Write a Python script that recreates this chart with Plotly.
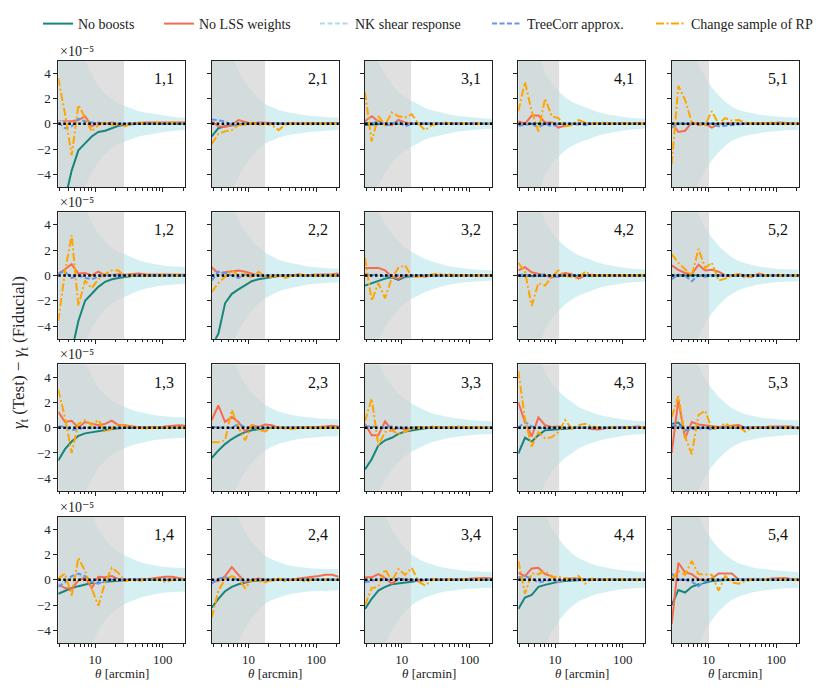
import math
import plotly.graph_objects as go

# angular bins [arcmin]
theta = [2.87, 3.60, 4.52, 5.68, 7.13, 8.94, 11.2, 14.1, 17.7, 22.2,
         27.9, 35.0, 43.9, 55.1, 69.2, 86.8, 109, 137, 172, 215]

lens_bins = [1, 2, 3, 4, 5]
source_bins = [1, 2, 3, 4]
scale_cuts = [26.8, 17.6, 13.7, 11.5, 10.2]   # per lens bin [arcmin]

# panels ordered (source 1: lens 1..5), (source 2: lens 1..5), ... ; units of 1e-5
sigma = [
    [14, 11, 8.5, 6.5, 5.0, 3.9, 3.0, 2.4, 1.9, 1.6, 1.4, 1.2, 1.0, 0.9, 0.8, 0.7, 0.62, 0.56, 0.5, 0.47],
    [10, 8.5, 6.8, 5.4, 4.2, 3.3, 2.6, 2.0, 1.55, 1.3, 1.1, 0.95, 0.85, 0.76, 0.68, 0.62, 0.57, 0.53, 0.5, 0.48],
    [7.5, 6.2, 4.8, 3.9, 3.1, 2.5, 2.1, 1.8, 1.5, 1.25, 1.07, 0.93, 0.8, 0.7, 0.61, 0.54, 0.49, 0.45, 0.42, 0.4],
    [12, 9.5, 7.2, 5.4, 4.1, 3.2, 2.6, 2.1, 1.75, 1.5, 1.3, 1.1, 0.92, 0.78, 0.67, 0.58, 0.51, 0.46, 0.42, 0.4],
    [14, 11, 8.5, 6.3, 4.7, 3.7, 2.9, 2.25, 1.75, 1.35, 1.1, 0.95, 0.83, 0.74, 0.66, 0.6, 0.55, 0.51, 0.49, 0.47],
    [14, 11, 8.8, 6.9, 5.3, 4.2, 3.3, 2.7, 2.2, 1.9, 1.65, 1.4, 1.2, 1.05, 0.93, 0.84, 0.77, 0.72, 0.68, 0.66],
    [10, 8.5, 6.8, 5.5, 4.4, 3.5, 2.8, 2.25, 1.8, 1.5, 1.25, 1.08, 0.95, 0.84, 0.75, 0.68, 0.62, 0.58, 0.55, 0.53],
    [8, 6.5, 5.1, 4.1, 3.3, 2.7, 2.2, 1.85, 1.55, 1.3, 1.1, 0.93, 0.8, 0.7, 0.61, 0.54, 0.49, 0.45, 0.42, 0.4],
    [12, 9.5, 7.3, 5.6, 4.3, 3.4, 2.8, 2.3, 1.9, 1.6, 1.38, 1.18, 1.0, 0.86, 0.75, 0.66, 0.59, 0.53, 0.5, 0.47],
    [14, 11, 8.5, 6.4, 4.8, 3.8, 3.0, 2.35, 1.85, 1.45, 1.15, 0.97, 0.83, 0.72, 0.64, 0.57, 0.52, 0.49, 0.47, 0.45],
    [14, 11, 8.7, 6.8, 5.2, 4.1, 3.2, 2.6, 2.15, 1.85, 1.6, 1.4, 1.25, 1.12, 1.02, 0.94, 0.88, 0.84, 0.82, 0.8],
    [10, 8.5, 6.8, 5.5, 4.4, 3.5, 2.8, 2.25, 1.8, 1.5, 1.28, 1.12, 1.0, 0.9, 0.83, 0.77, 0.73, 0.7, 0.68, 0.67],
    [8, 6.5, 5.1, 4.1, 3.3, 2.7, 2.25, 1.9, 1.6, 1.35, 1.15, 1.0, 0.88, 0.78, 0.7, 0.63, 0.58, 0.54, 0.52, 0.5],
    [12, 9.5, 7.4, 5.7, 4.4, 3.5, 2.9, 2.4, 2.0, 1.65, 1.4, 1.2, 1.03, 0.9, 0.79, 0.7, 0.62, 0.56, 0.52, 0.5],
    [14, 11, 8.6, 6.5, 4.9, 3.9, 3.1, 2.45, 1.95, 1.55, 1.25, 1.06, 0.93, 0.83, 0.75, 0.69, 0.64, 0.61, 0.59, 0.58],
    [16, 13, 10.5, 8.3, 6.5, 5.1, 4.0, 3.2, 2.6, 2.2, 1.9, 1.65, 1.45, 1.3, 1.18, 1.08, 1.01, 0.96, 0.93, 0.92],
    [11, 9.2, 7.5, 6.1, 4.8, 3.8, 3.0, 2.4, 1.9, 1.6, 1.38, 1.22, 1.1, 1.0, 0.95, 0.9, 0.87, 0.85, 0.84, 0.84],
    [9.5, 7.8, 6.2, 5.0, 4.0, 3.2, 2.5, 2.0, 1.65, 1.4, 1.2, 1.05, 0.93, 0.84, 0.77, 0.72, 0.68, 0.65, 0.64, 0.63],
    [13, 10.5, 8.3, 6.5, 5.2, 4.1, 3.3, 2.6, 2.1, 1.7, 1.45, 1.25, 1.1, 0.97, 0.87, 0.79, 0.73, 0.68, 0.65, 0.63],
    [14, 11.5, 8.9, 6.8, 5.1, 4.0, 3.2, 2.5, 2.0, 1.6, 1.32, 1.14, 1.0, 0.9, 0.82, 0.76, 0.71, 0.67, 0.65, 0.63],
]

no_boosts = [
    [-9.0, -6.0, -3.7, -2.1, -1.55, -1.0, -0.65, -0.55, -0.35, -0.15, -0.08, -0.03, 0.0, 0.0, 0.0, 0.0, 0.0, 0.0, 0.0, 0.0],
    [-1.0, -0.35, -0.2, -0.1, -0.05, 0.0, 0.0, 0.0, 0.0, 0.0, 0.0, 0.0, 0.0, 0.0, 0.0, 0.0, 0.0, 0.0, 0.0, 0.0],
    [-0.1, -0.05, 0.0, 0.0, 0.0, 0.0, 0.0, 0.0, 0.0, 0.0, 0.0, 0.0, 0.0, 0.0, 0.0, 0.0, 0.0, 0.0, 0.0, 0.0],
    [-0.05, 0.0, 0.0, 0.0, 0.0, 0.0, 0.0, 0.0, 0.0, 0.0, 0.0, 0.0, 0.0, 0.0, 0.0, 0.0, 0.0, 0.0, 0.0, 0.0],
    [0.0, 0.0, 0.0, 0.0, 0.0, 0.0, 0.0, 0.0, 0.0, 0.0, 0.0, 0.0, 0.0, 0.0, 0.0, 0.0, 0.0, 0.0, 0.0, 0.0],
    [-12.0, -9.0, -6.0, -3.6, -2.0, -1.45, -0.9, -0.5, -0.3, -0.2, -0.1, -0.05, -0.02, 0.0, 0.0, 0.0, 0.0, 0.0, 0.0, 0.0],
    [-5.6, -4.6, -2.2, -1.45, -1.1, -0.75, -0.45, -0.3, -0.2, -0.1, -0.05, 0.0, 0.0, 0.0, 0.0, 0.0, 0.0, 0.0, 0.0, 0.0],
    [-0.8, -0.6, -0.4, -0.25, -0.15, -0.35, -0.1, -0.05, 0.0, 0.0, 0.0, 0.0, 0.0, 0.0, 0.0, 0.0, 0.0, 0.0, 0.0, 0.0],
    [-0.05, -0.05, 0.0, 0.0, 0.0, 0.0, 0.0, 0.0, 0.0, 0.0, 0.0, 0.0, 0.0, 0.0, 0.0, 0.0, 0.0, 0.0, 0.0, 0.0],
    [0.0, 0.0, 0.0, 0.0, 0.0, 0.0, 0.0, 0.0, 0.0, 0.0, 0.0, 0.0, 0.0, 0.0, 0.0, 0.0, 0.0, 0.0, 0.0, 0.0],
    [-2.6, -1.7, -1.1, -0.65, -0.45, -0.35, -0.25, -0.15, -0.1, -0.05, 0.0, 0.0, 0.0, 0.0, 0.0, 0.0, 0.0, 0.0, 0.0, 0.0],
    [-2.4, -1.8, -1.3, -0.9, -0.6, -0.35, -0.2, -0.1, -0.05, 0.0, 0.0, 0.0, 0.0, 0.0, 0.0, 0.0, 0.0, 0.0, 0.0, 0.0],
    [-3.3, -2.5, -1.4, -1.0, -0.8, -0.5, -0.3, -0.2, -0.1, -0.05, 0.0, 0.0, 0.0, 0.0, 0.0, 0.0, 0.0, 0.0, 0.0, 0.0],
    [-2.05, -0.8, -1.1, -0.6, -0.2, -0.15, -0.1, -0.05, 0.0, 0.0, 0.0, 0.0, 0.0, 0.0, 0.0, 0.0, 0.0, 0.0, 0.0, 0.0],
    [0.3, 0.4, -0.2, 0.0, 0.0, 0.0, 0.0, 0.0, 0.0, 0.0, 0.0, 0.0, 0.0, 0.0, 0.0, 0.0, 0.0, 0.0, 0.0, 0.0],
    [-1.1, -0.85, -0.65, -0.5, -0.35, -0.25, -0.2, -0.15, -0.1, -0.05, 0.0, 0.0, 0.0, 0.0, 0.0, 0.0, 0.0, 0.0, 0.0, 0.0],
    [-2.2, -1.5, -0.9, -0.55, -0.35, -0.2, -0.1, -0.05, 0.0, 0.0, 0.0, 0.0, 0.0, 0.0, 0.0, 0.0, 0.0, 0.0, 0.0, 0.0],
    [-2.3, -1.5, -0.85, -0.55, -0.35, -0.3, -0.2, -0.15, -0.05, 0.0, 0.0, 0.0, 0.0, 0.0, 0.0, 0.0, 0.0, 0.0, 0.0, 0.0],
    [-2.3, -1.4, -1.2, -0.55, -0.4, -0.25, -0.15, -0.1, -0.05, 0.0, 0.0, 0.0, 0.0, 0.0, 0.0, 0.0, 0.0, 0.0, 0.0, 0.0],
    [-2.0, -0.8, -1.0, -0.55, -0.35, -0.2, -0.1, -0.05, 0.0, 0.0, 0.0, 0.0, 0.0, 0.0, 0.0, 0.0, 0.0, 0.0, 0.0, 0.0],
]

no_lss_weights = [
    [0.2, 0.2, 0.2, 0.3, 0.6, -0.2, 0.1, 0.0, 0.1, -0.05, 0.0, 0.05, 0.05, 0.1, 0.1, 0.1, 0.1, 0.15, 0.15, 0.1],
    [0.2, -0.2, -0.25, -0.1, 0.3, 0.15, 0.0, 0.1, 0.1, 0.05, 0.05, 0.0, 0.05, 0.0, 0.05, 0.05, 0.0, 0.05, 0.05, 0.05],
    [0.2, 0.6, 0.2, 0.0, -0.1, 0.3, 0.1, 0.0, 0.05, 0.0, 0.0, 0.05, 0.0, 0.05, 0.0, 0.0, 0.05, 0.0, 0.0, 0.0],
    [0.2, 0.0, 0.65, 0.65, 0.1, 0.1, -0.3, -0.15, 0.0, -0.05, 0.05, 0.0, 0.05, 0.05, 0.0, 0.05, 0.05, 0.0, 0.05, 0.0],
    [0.1, -0.65, -0.55, 0.1, -0.1, 0.0, -0.3, 0.0, 0.0, 0.05, 0.0, 0.0, 0.05, 0.0, 0.05, 0.05, 0.1, 0.05, 0.0, 0.0],
    [0.1, 0.5, 0.9, 0.15, 0.2, 0.0, 0.3, 0.0, 0.05, 0.1, 0.05, 0.1, 0.15, 0.1, 0.1, 0.1, 0.05, 0.05, 0.05, 0.05],
    [0.65, 0.15, 0.25, 0.35, 0.4, 0.3, 0.15, 0.0, -0.05, 0.0, 0.0, 0.0, 0.0, 0.1, 0.0, 0.05, 0.05, 0.05, 0.1, 0.15],
    [0.6, 0.6, 0.6, 0.4, -0.1, -0.25, 0.0, 0.0, 0.0, -0.1, 0.0, 0.0, 0.05, -0.05, 0.0, 0.0, 0.0, 0.0, 0.0, 0.0],
    [0.4, 0.65, 0.25, 0.15, 0.0, -0.15, 0.0, 0.2, 0.1, -0.25, 0.0, 0.05, 0.0, 0.0, 0.0, 0.0, 0.0, 0.0, 0.0, 0.0],
    [0.8, 0.45, 0.2, 0.1, 0.85, 0.4, 0.45, 0.3, 0.0, 0.0, 0.1, 0.0, -0.1, 0.15, 0.0, 0.0, 0.05, 0.0, 0.0, 0.0],
    [1.25, 0.45, 0.55, 0.0, 0.45, 0.3, 0.2, 0.3, 0.55, 0.2, 0.2, 0.1, 0.05, 0.0, 0.05, 0.0, 0.1, 0.15, 0.2, 0.15],
    [0.6, 1.75, 0.45, 0.85, 0.45, -0.3, 0.2, 0.05, 0.25, 0.2, 0.0, -0.05, 0.0, 0.0, 0.0, 0.0, 0.05, 0.1, 0.15, 0.1],
    [0.3, -0.6, -0.6, 0.5, -0.2, 0.0, -0.15, 0.0, 0.05, 0.0, 0.05, 0.0, 0.0, 0.0, 0.0, 0.0, 0.0, 0.0, 0.0, 0.0],
    [2.0, 0.45, -0.7, 0.8, 0.2, 0.05, 0.1, -0.05, 0.0, 0.0, 0.0, -0.1, -0.15, -0.05, 0.0, 0.0, 0.05, 0.05, 0.1, -0.1],
    [-2.0, 2.2, -0.85, 0.45, 0.25, 0.2, 0.1, 0.05, 0.1, 0.15, 0.2, 0.0, 0.0, 0.05, 0.05, 0.1, 0.1, 0.15, 0.1, -0.1],
    [-0.35, -0.65, -0.7, -0.05, 0.2, -0.65, 0.25, 0.2, 0.3, 0.05, 0.0, 0.0, 0.05, 0.05, 0.1, 0.2, 0.25, 0.25, 0.15, 0.05],
    [-0.15, -0.1, 0.3, 1.0, 0.4, -0.2, 0.0, 0.1, 0.0, -0.05, 0.0, 0.0, 0.0, 0.1, 0.15, 0.2, 0.3, 0.4, 0.4, 0.25],
    [0.2, 0.2, 0.45, 0.15, -0.3, 0.1, 0.0, 0.0, -0.1, 0.0, 0.0, 0.0, 0.0, 0.0, 0.05, 0.05, 0.1, 0.15, 0.15, 0.1],
    [0.55, 0.3, 0.9, 0.95, 0.45, 0.3, -0.2, 0.1, 0.1, 0.1, 0.0, 0.0, 0.05, 0.0, 0.0, 0.05, 0.0, 0.0, 0.05, 0.0],
    [-3.5, 1.35, 0.6, 0.45, 0.05, -0.05, 0.1, 0.5, 0.5, 0.5, 0.0, 0.0, 0.0, 0.0, 0.0, 0.1, 0.15, 0.15, 0.05, 0.0],
]

nk_shear_response = [
    [0.2, 0.1, 0.05, 0.0, 0.05, 0.0, 0.0, 0.0, 0.0, 0.0, 0.0, 0.0, 0.0, 0.0, 0.0, 0.0, 0.0, 0.0, 0.0, 0.0],
    [0.3, 0.25, 0.1, 0.0, 0.0, 0.0, 0.0, 0.0, 0.0, 0.0, 0.0, 0.0, 0.0, 0.0, 0.0, 0.0, 0.0, 0.0, 0.0, 0.0],
    [0.1, 0.05, 0.1, 0.0, 0.0, 0.05, 0.0, 0.0, 0.0, 0.0, 0.0, 0.0, 0.0, 0.0, 0.0, 0.0, 0.0, 0.0, 0.0, 0.0],
    [-0.1, -0.05, 0.0, -0.1, 0.0, -0.05, 0.0, 0.0, 0.0, 0.0, 0.0, 0.0, 0.0, 0.0, 0.0, 0.0, 0.0, 0.0, 0.0, 0.0],
    [-0.2, 0.0, 0.0, 0.0, 0.05, 0.0, 0.0, -0.1, -0.05, 0.0, 0.0, 0.0, 0.0, 0.0, 0.0, 0.0, 0.0, 0.0, 0.0, 0.0],
    [0.15, 0.2, -0.1, 0.0, -0.1, -0.15, 0.0, 0.0, 0.0, 0.0, 0.0, 0.0, 0.0, 0.0, 0.0, 0.0, 0.0, 0.0, 0.0, 0.0],
    [-0.3, 0.2, 0.15, 0.0, -0.1, 0.05, 0.0, 0.0, 0.0, 0.0, 0.0, 0.0, 0.0, 0.0, 0.0, 0.0, 0.0, 0.0, 0.0, 0.0],
    [0.1, 0.05, 0.05, -0.05, 0.0, 0.0, 0.0, 0.0, 0.0, 0.0, 0.0, 0.0, 0.0, 0.0, 0.0, 0.0, 0.0, 0.0, 0.0, 0.0],
    [0.05, 0.1, -0.05, 0.0, 0.05, -0.05, 0.0, 0.0, 0.0, 0.0, 0.0, 0.0, 0.0, 0.0, 0.0, 0.0, 0.0, 0.0, 0.0, 0.0],
    [-0.2, 0.05, 0.0, -0.3, 0.0, -0.05, 0.0, 0.0, 0.0, 0.0, 0.0, 0.0, 0.0, 0.0, 0.0, 0.0, 0.0, 0.0, 0.0, 0.0],
    [0.1, 0.05, -0.1, -0.05, 0.0, 0.0, 0.0, 0.0, 0.0, 0.0, 0.0, 0.0, 0.0, 0.0, 0.0, 0.0, 0.0, 0.0, 0.0, 0.0],
    [0.05, 0.0, 0.0, 0.0, 0.2, 0.0, 0.0, 0.0, 0.0, 0.0, 0.0, 0.0, 0.0, 0.0, 0.0, 0.0, 0.0, 0.0, 0.0, 0.0],
    [0.1, 0.05, 0.0, 0.0, 0.05, 0.0, 0.0, 0.0, 0.0, 0.0, 0.0, 0.0, 0.0, 0.0, 0.0, 0.0, 0.0, 0.0, 0.0, 0.0],
    [0.0, 0.3, 0.05, 0.0, -0.05, 0.0, 0.0, 0.0, 0.0, 0.0, 0.0, 0.0, 0.0, 0.0, 0.0, 0.0, 0.0, 0.0, 0.0, 0.0],
    [0.05, 0.15, -0.15, -0.05, -0.05, 0.0, -0.1, 0.0, 0.0, 0.0, 0.0, 0.0, 0.0, 0.0, 0.0, 0.0, 0.0, 0.0, 0.0, 0.0],
    [-0.4, -0.15, 0.2, 0.35, 0.2, -0.1, -0.2, -0.05, 0.0, 0.0, 0.0, 0.0, 0.0, 0.0, 0.0, 0.0, 0.0, 0.0, 0.0, 0.0],
    [-0.2, 0.05, 0.15, 0.05, 0.0, -0.05, 0.0, 0.0, 0.0, 0.0, 0.0, 0.0, 0.0, 0.0, 0.0, 0.0, 0.0, 0.0, 0.0, 0.0],
    [-0.15, -0.05, 0.05, 0.0, 0.0, 0.05, 0.0, 0.0, 0.0, 0.0, 0.0, 0.0, 0.0, 0.0, 0.0, 0.0, 0.0, 0.0, 0.0, 0.0],
    [0.15, 0.2, 0.05, -0.15, -0.05, 0.0, -0.1, 0.0, 0.0, 0.0, 0.0, 0.0, 0.0, 0.0, 0.0, 0.0, 0.0, 0.0, 0.0, 0.0],
    [0.35, 0.0, 0.0, -0.1, -0.35, -0.05, 0.0, 0.0, 0.0, 0.0, 0.0, 0.0, 0.0, 0.0, 0.0, 0.0, 0.0, 0.0, 0.0, 0.0],
]

treecorr_approx = [
    [0.1, -0.35, -0.2, 0.4, 0.2, 0.1, 0.0, 0.0, 0.0, 0.0, 0.0, 0.0, 0.0, 0.0, 0.0, 0.0, 0.0, 0.0, 0.0, 0.0],
    [0.35, 0.3, 0.2, -0.1, -0.15, 0.0, 0.0, 0.0, 0.0, 0.0, 0.0, 0.0, 0.0, 0.0, 0.0, 0.0, 0.0, 0.0, 0.0, 0.0],
    [0.1, 0.0, 0.2, -0.15, 0.0, 0.2, -0.2, 0.0, 0.0, 0.0, 0.0, 0.0, 0.0, 0.0, 0.0, 0.0, 0.0, 0.0, 0.0, 0.0],
    [-0.15, -0.1, 0.0, -0.3, 0.0, -0.2, 0.0, 0.0, 0.0, 0.0, -0.1, 0.0, 0.0, 0.0, 0.0, 0.0, 0.0, 0.0, 0.0, 0.0],
    [-0.3, 0.0, 0.0, -0.05, 0.1, 0.0, 0.0, -0.2, -0.15, -0.1, 0.0, 0.0, 0.0, 0.0, 0.0, 0.0, 0.0, 0.0, 0.0, 0.0],
    [0.2, 0.3, -0.2, 0.0, -0.2, -0.3, -0.1, 0.0, 0.0, 0.0, 0.0, 0.0, 0.0, 0.0, 0.0, 0.0, 0.0, 0.0, 0.0, 0.0],
    [-0.4, 0.3, 0.2, 0.0, -0.2, 0.1, 0.0, 0.0, 0.0, 0.0, 0.0, 0.0, 0.0, 0.0, 0.0, 0.0, 0.0, 0.0, 0.0, 0.0],
    [0.1, 0.0, 0.1, -0.1, 0.0, 0.0, 0.0, 0.0, 0.0, 0.0, 0.0, 0.0, 0.0, 0.0, 0.0, 0.0, 0.0, 0.0, 0.0, 0.0],
    [0.0, 0.1, -0.1, 0.0, 0.1, -0.1, -0.1, 0.0, 0.0, 0.0, 0.0, 0.0, 0.0, 0.0, 0.0, 0.0, 0.0, 0.0, 0.0, 0.0],
    [-0.3, 0.05, 0.0, -0.45, 0.0, -0.1, 0.0, 0.0, 0.0, 0.0, 0.0, 0.0, 0.0, 0.0, 0.0, 0.0, 0.0, 0.0, 0.0, 0.0],
    [0.1, 0.1, -0.2, -0.1, 0.0, 0.0, 0.0, 0.0, 0.0, 0.0, 0.0, 0.0, 0.0, 0.0, 0.0, 0.0, 0.0, 0.0, 0.0, 0.0],
    [0.05, 0.0, 0.0, 0.0, 0.3, 0.0, 0.0, 0.0, 0.0, 0.0, 0.0, 0.0, 0.0, 0.0, 0.0, 0.0, 0.0, 0.0, 0.0, 0.0],
    [0.1, 0.1, 0.0, 0.0, 0.1, -0.05, 0.0, 0.0, 0.0, 0.0, 0.0, 0.0, 0.0, 0.0, 0.0, 0.0, 0.0, 0.0, 0.0, 0.0],
    [0.0, 0.45, 0.1, 0.0, -0.1, 0.0, 0.0, 0.0, 0.0, 0.0, 0.0, 0.0, 0.0, 0.0, 0.0, 0.0, 0.0, 0.0, 0.0, 0.0],
    [0.1, 0.2, -0.25, -0.1, -0.1, 0.0, -0.15, 0.0, 0.0, 0.0, 0.0, 0.0, 0.0, 0.0, 0.0, 0.0, 0.0, 0.0, 0.0, 0.0],
    [-0.55, -0.2, 0.3, 0.5, 0.3, -0.15, -0.3, -0.1, 0.0, 0.0, 0.0, 0.0, 0.0, 0.0, 0.0, 0.0, 0.0, 0.0, 0.0, 0.0],
    [-0.3, 0.1, 0.2, 0.1, 0.0, -0.1, 0.0, 0.0, 0.0, 0.0, 0.0, 0.0, 0.0, 0.0, 0.0, 0.0, 0.0, 0.0, 0.0, 0.0],
    [-0.2, -0.1, 0.1, 0.0, 0.0, 0.1, 0.0, 0.0, 0.0, 0.0, 0.0, 0.0, 0.0, 0.0, 0.0, 0.0, 0.0, 0.0, 0.0, 0.0],
    [0.2, 0.3, 0.1, -0.2, -0.1, 0.0, -0.15, 0.0, 0.0, 0.0, 0.0, 0.0, 0.0, 0.0, 0.0, 0.0, 0.0, 0.0, 0.0, 0.0],
    [0.5, 0.0, 0.0, -0.15, -0.5, -0.1, 0.0, 0.0, 0.0, 0.0, 0.0, 0.0, 0.0, 0.0, 0.0, 0.0, 0.0, 0.0, 0.0, 0.0],
]

change_sample_rp = [
    [3.6, 0.8, -2.5, 1.5, 0.5, -0.6, -0.1, 0.1, -0.1, 0.0, -0.2, 0.05, 0.1, 0.0, 0.0, 0.1, 0.05, 0.05, 0.1, 0.1],
    [-1.6, -0.8, -0.6, -0.5, -0.1, -0.1, 0.1, -0.1, 0.0, -0.1, -0.5, -0.05, 0.0, 0.0, -0.05, 0.0, 0.0, 0.0, 0.0, 0.0],
    [2.5, -1.4, 0.6, -0.1, 0.9, 0.6, 0.5, 0.75, 0.0, -0.5, -0.1, 0.0, 0.1, 0.0, 0.05, 0.0, 0.0, 0.0, 0.0, 0.0],
    [1.0, 3.3, 1.0, -0.6, 2.0, 0.6, 0.45, -0.2, -0.1, 0.3, 0.1, 0.0, 0.05, 0.1, 0.0, 0.0, 0.05, 0.0, 0.0, 0.0],
    [-3.2, 3.0, 1.9, 0.1, 0.0, -0.1, 1.0, 0.0, 0.45, 0.25, 0.3, 0.1, 0.0, 0.05, 0.0, 0.1, 0.0, 0.0, 0.0, 0.0],
    [-3.6, 0.3, 3.2, -2.4, -0.4, -1.0, -0.3, 0.1, 0.4, 0.4, -0.1, 0.0, 0.0, -0.05, 0.0, 0.0, 0.0, 0.0, 0.0, 0.0],
    [-1.3, -0.6, -0.1, 0.4, 0.0, 0.2, -0.2, 0.3, -0.1, -0.1, 0.0, -0.2, 0.0, 0.1, 0.0, 0.0, 0.0, 0.0, 0.0, 0.0],
    [1.4, -2.0, -0.6, -1.8, -0.2, 0.6, 0.8, -0.1, -0.1, 0.0, 0.1, 0.15, 0.0, 0.1, 0.0, 0.0, 0.0, 0.0, 0.0, 0.0],
    [1.0, 0.3, -2.4, -0.6, -0.8, -0.1, 0.4, -0.05, -0.1, -0.2, 0.3, 0.0, 0.0, 0.0, 0.0, 0.0, 0.0, 0.0, 0.0, 0.0],
    [1.7, 1.0, 0.5, 0.0, 2.1, 0.6, 1.0, -0.4, -0.25, 0.0, 0.1, -0.2, 0.0, 0.1, 0.0, 0.05, 0.0, 0.0, 0.0, 0.0],
    [3.0, 0.8, -2.0, 0.3, 0.6, 0.2, 0.6, -0.35, -0.05, 0.25, 0.1, 0.15, 0.0, -0.1, 0.0, 0.0, 0.0, 0.0, 0.0, 0.0],
    [-1.15, -1.15, -1.0, 1.4, 0.0, -1.0, 0.2, -0.2, -0.3, 0.0, 0.0, 0.0, -0.1, 0.0, 0.0, 0.0, 0.0, 0.0, 0.0, 0.0],
    [0.5, 2.3, -1.4, -0.35, -0.2, -0.5, -0.3, -0.1, 0.0, 0.0, 0.1, 0.0, 0.0, 0.05, 0.1, 0.05, 0.0, 0.0, 0.0, 0.0],
    [4.5, 0.7, -1.5, -0.35, -0.85, -0.75, -0.35, 0.6, -0.1, 0.2, 0.3, 0.1, 0.0, 0.0, 0.0, 0.0, 0.0, 0.0, 0.0, 0.0],
    [0.85, 2.5, -0.7, -2.1, 1.0, 1.35, -0.1, 0.0, 0.35, 0.0, 0.1, -0.3, 0.0, 0.0, 0.05, 0.0, 0.0, 0.0, 0.0, 0.0],
    [0.1, 0.5, -1.25, 1.75, 0.7, -0.6, -2.05, -0.2, 0.95, 0.55, -0.1, 0.0, -0.1, 0.0, 0.1, 0.0, -0.2, 0.0, 0.1, 0.0],
    [-3.0, -0.85, 0.05, 0.3, 0.1, -0.65, 0.0, -0.1, -0.2, 0.0, 0.1, -0.1, 0.0, 0.0, -0.15, 0.0, 0.0, 0.0, 0.0, 0.0],
    [-2.0, -0.65, -0.55, 0.85, -0.1, 0.85, 0.4, 0.95, -0.15, -0.45, 0.0, 0.0, -0.05, 0.0, 0.0, 0.0, 0.0, 0.0, 0.0, 0.0],
    [1.5, -1.1, 0.5, 0.45, 0.7, 0.2, 0.25, 0.1, 0.05, 0.3, -0.3, 0.1, 0.0, 0.0, 0.0, 0.0, 0.0, 0.0, 0.0, 0.0],
    [0.05, 0.7, 0.4, 1.5, 0.45, 0.4, 0.4, -0.85, 0.3, -0.2, -0.3, -0.1, 0.0, 0.0, 0.0, 0.0, 0.0, 0.0, 0.0, 0.0],
]

series = [
    ("No boosts", no_boosts, "#15857d", "solid"),
    ("No LSS weights", no_lss_weights, "#f76c50", "solid"),
    ("NK shear response", nk_shear_response, "#add8e6", "5px,2.5px"),
    ("TreeCorr approx.", treecorr_approx, "#6495ed", "5px,2.5px"),
    ("Change sample of RP", change_sample_rp, "#ffa500", "8px,2.5px,2px,2.5px"),
]

FONT = "Liberation Serif, Times New Roman, DejaVu Serif, serif"
AX = "#222222"
W, H = 822, 698
OFF = 8  # page body margin in the browser
col_left = [58.3, 211.7, 365.0, 518.3, 671.7]
panel_w = 127.0
row_top = [55.0, 208.0, 361.5, 515.0]
panel_h = 127.5
legend_text_x = [78, 199, 355, 527, 691]

fig = go.Figure()
layout = {}
annotations = []
shapes = []
minor_vals = [3, 4, 5, 6, 7, 8, 9, 20, 30, 40, 50, 60, 70, 80, 90, 200]

for r, sb in enumerate(source_bins):
    for c, lb in enumerate(lens_bins):
        k = r * 5 + c
        n = k + 1
        xs = "x" if n == 1 else f"x{n}"
        ys = "y" if n == 1 else f"y{n}"
        xa = "xaxis" if n == 1 else f"xaxis{n}"
        ya = "yaxis" if n == 1 else f"yaxis{n}"
        s = sigma[k]
        fig.add_trace(go.Scatter(x=theta, y=[-v for v in s], mode="lines",
                                 line=dict(width=0), showlegend=False,
                                 hoverinfo="skip", xaxis=xs, yaxis=ys))
        fig.add_trace(go.Scatter(x=theta, y=s, mode="lines", line=dict(width=0),
                                 fill="tonexty", fillcolor="rgba(60,185,200,0.22)",
                                 showlegend=False, hoverinfo="skip",
                                 xaxis=xs, yaxis=ys))
        cut = scale_cuts[c]
        lo = theta[0] / 1.2
        fig.add_trace(go.Scatter(x=[lo, cut, cut, lo], y=[-10, -10, 10, 10],
                                 mode="lines", line=dict(width=0), fill="toself",
                                 fillcolor="rgba(211,211,211,0.7)",
                                 showlegend=False, hoverinfo="skip",
                                 xaxis=xs, yaxis=ys))
        for si, (name, data, color, dash) in enumerate(series):
            lg = "legend" if si == 0 else f"legend{si + 1}"
            fig.add_trace(go.Scatter(x=theta, y=data[k], mode="lines", name=name,
                                     line=dict(color=color, dash=dash, width=2),
                                     legendgroup=name, showlegend=(k == 0),
                                     legend=lg, xaxis=xs, yaxis=ys))
        x0 = (col_left[c] - OFF) / W
        x1 = (col_left[c] - OFF + panel_w) / W
        y1 = 1 - (row_top[r] - OFF) / H
        y0 = 1 - (row_top[r] - OFF + panel_h) / H
        layout[xa] = dict(
            type="log", domain=[x0, x1], anchor=ys,
            range=[math.log10(theta[0]), math.log10(theta[-1])],
            tickvals=[10, 100], ticktext=["10", "100"], showticklabels=(r == 3),
            ticks="outside", ticklen=4, tickwidth=1, tickcolor=AX,
            minor=dict(tickvals=minor_vals, ticks="outside", ticklen=2.5,
                       tickwidth=1, tickcolor=AX, showgrid=False),
            showline=True, linecolor=AX, linewidth=1, mirror=True,
            showgrid=False, zeroline=False,
            tickfont=dict(family=FONT, size=13, color="#222"),
        )
        layout[ya] = dict(
            domain=[y0, y1], anchor=xs, range=[-5, 5],
            tickvals=[-4, -2, 0, 2, 4],
            ticktext=["\u22124", "\u22122", "0", "2", "4"],
            showticklabels=(c == 0),
            ticks="outside", ticklen=4, tickwidth=1, tickcolor=AX,
            showline=True, linecolor=AX, linewidth=1, mirror=True,
            showgrid=False, zeroline=False,
            tickfont=dict(family=FONT, size=13, color="#222"),
        )
        shapes.append(dict(type="line", xref=f"{xs} domain", yref=ys,
                           x0=0, x1=1, y0=0, y1=0, layer="above",
                           line=dict(color="black", width=2.5, dash="2.5px,2.5px")))
        annotations.append(dict(text=f"{lb},{sb}", xref=f"{xs} domain",
                                yref=f"{ys} domain", x=0.93, y=0.86,
                                xanchor="right", yanchor="middle", showarrow=False,
                                font=dict(family=FONT, size=16, color="#111")))
        if c == 0:
            annotations.append(dict(text="\u00d710\u207b\u2075",
                                    xref=f"{xs} domain", yref=f"{ys} domain",
                                    x=0.0, y=1.0, xanchor="left", yanchor="bottom",
                                    showarrow=False,
                                    font=dict(family=FONT, size=14, color="#222")))
        if r == 3:
            annotations.append(dict(text="<i>\u03b8</i> [arcmin]",
                                    xref=f"{xs} domain", yref="paper",
                                    x=0.5, y=1 - (673 - OFF) / H, xanchor="center",
                                    yanchor="middle", showarrow=False,
                                    font=dict(family=FONT, size=13, color="#222")))

annotations.append(dict(
    text="<i>\u03b3</i><sub>t</sub> (Test) \u2212 <i>\u03b3</i><sub>t</sub> (Fiducial)",
    xref="paper", yref="paper", x=(20 - OFF) / W, y=1 - (350 - OFF) / H,
    textangle=-90, xanchor="center", yanchor="middle", showarrow=False,
    font=dict(family=FONT, size=17, color="#222")))

legend_style = dict(orientation="h", xanchor="left", yanchor="middle",
                    font=dict(family=FONT, size=14, color="#222"),
                    bgcolor="rgba(0,0,0,0)", borderwidth=0, itemwidth=30)
legends = {}
for si, tx in enumerate(legend_text_x):
    key = "legend" if si == 0 else f"legend{si + 1}"
    legends[key] = dict(legend_style, x=(tx - OFF - 40) / W, y=1 - (18 - OFF) / H)

fig.update_layout(
    width=W, height=H, margin=dict(l=0, r=0, t=0, b=0),
    paper_bgcolor="white", plot_bgcolor="white",
    showlegend=True,
    annotations=annotations, shapes=shapes,
    **legends,
    **layout,
)

fig.write_html("out.html")
